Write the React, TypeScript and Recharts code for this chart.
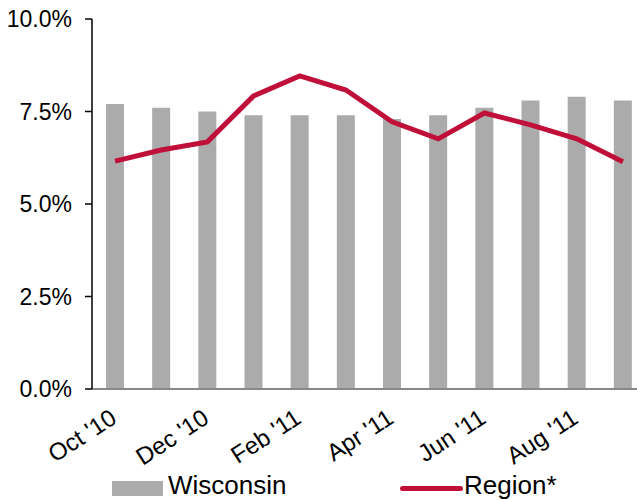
import React from "react";
import { ComposedChart, Bar, Line, XAxis, YAxis, Legend } from "recharts";

const months = ["Oct '10", "Nov '10", "Dec '10", "Jan '11", "Feb '11", "Mar '11", "Apr '11", "May '11", "Jun '11", "Jul '11", "Aug '11", "Sep '11"];
const wisconsin = [7.7, 7.6, 7.5, 7.4, 7.4, 7.4, 7.3, 7.4, 7.6, 7.8, 7.9, 7.8];
const region = [6.16, 6.46, 6.68, 7.92, 8.46, 8.08, 7.22, 6.76, 7.46, 7.14, 6.76, 6.14];
const yTicks = [0, 2.5, 5, 7.5, 10];

const data = months.map((m, i) => ({ month: m, wisconsin: wisconsin[i], region: region[i] }));

const FONT = "Arial, 'Liberation Sans', sans-serif";
const BAR = "#ABABAB";
const RED = "#C0103A";

const XTick = (props: any) => {
  const { x, y, payload } = props;
  const ax = x + 3;
  const ay = y + 25;
  return (
    <text
      x={ax}
      y={ay}
      textAnchor="end"
      transform={`rotate(-33, ${ax}, ${ay})`}
      fontSize={24}
      fontFamily={FONT}
      fill="#000"
    >
      {payload.value}
    </text>
  );
};

const LegendContent = () => (
  <div style={{ position: "relative", height: 41, fontFamily: FONT, fontSize: 26, color: "#000" }}>
    <div style={{ position: "absolute", left: 112, top: 22, width: 51, height: 15, background: BAR }} />
    <div style={{ position: "absolute", left: 168, top: 11, lineHeight: "30px" }}>Wisconsin</div>
    <div style={{ position: "absolute", left: 400, top: 27, width: 63, height: 5, borderRadius: 3, background: RED }} />
    <div style={{ position: "absolute", left: 464, top: 11, lineHeight: "30px" }}>Region*</div>
  </div>
);

export default function App() {
  return (
    <div style={{ position: "absolute", left: 0, top: 0, width: 637, height: 500, overflow: "hidden", background: "#fff" }}>
      <ComposedChart
        width={660}
        height={500}
        data={data}
        margin={{ top: 19, right: 14, left: 0, bottom: 0 }}
        barCategoryGap={28}
      >
        <XAxis
          dataKey="month"
          interval={1}
          tick={<XTick />}
          tickLine={false}
          axisLine={{ stroke: "#888888", strokeWidth: 2 }}
          height={70}
        />
        <YAxis
          domain={[0, 10]}
          ticks={yTicks}
          tickFormatter={(v: number) => `${v.toFixed(1)}%`}
          width={92}
          tickSize={7}
          tickMargin={13}
          tick={{ fontSize: 23, fontFamily: FONT, fill: "#000" }}
          axisLine={{ stroke: "#000", strokeWidth: 1.5 }}
          tickLine={{ stroke: "#000", strokeWidth: 1.5 }}
        />
        <Legend verticalAlign="bottom" content={<LegendContent />} />
        <Bar dataKey="wisconsin" fill={BAR} barSize={18} isAnimationActive={false} />
        <Line
          dataKey="region"
          stroke={RED}
          strokeWidth={5}
          dot={false}
          type="linear"
          isAnimationActive={false}
        />
      </ComposedChart>
    </div>
  );
}
